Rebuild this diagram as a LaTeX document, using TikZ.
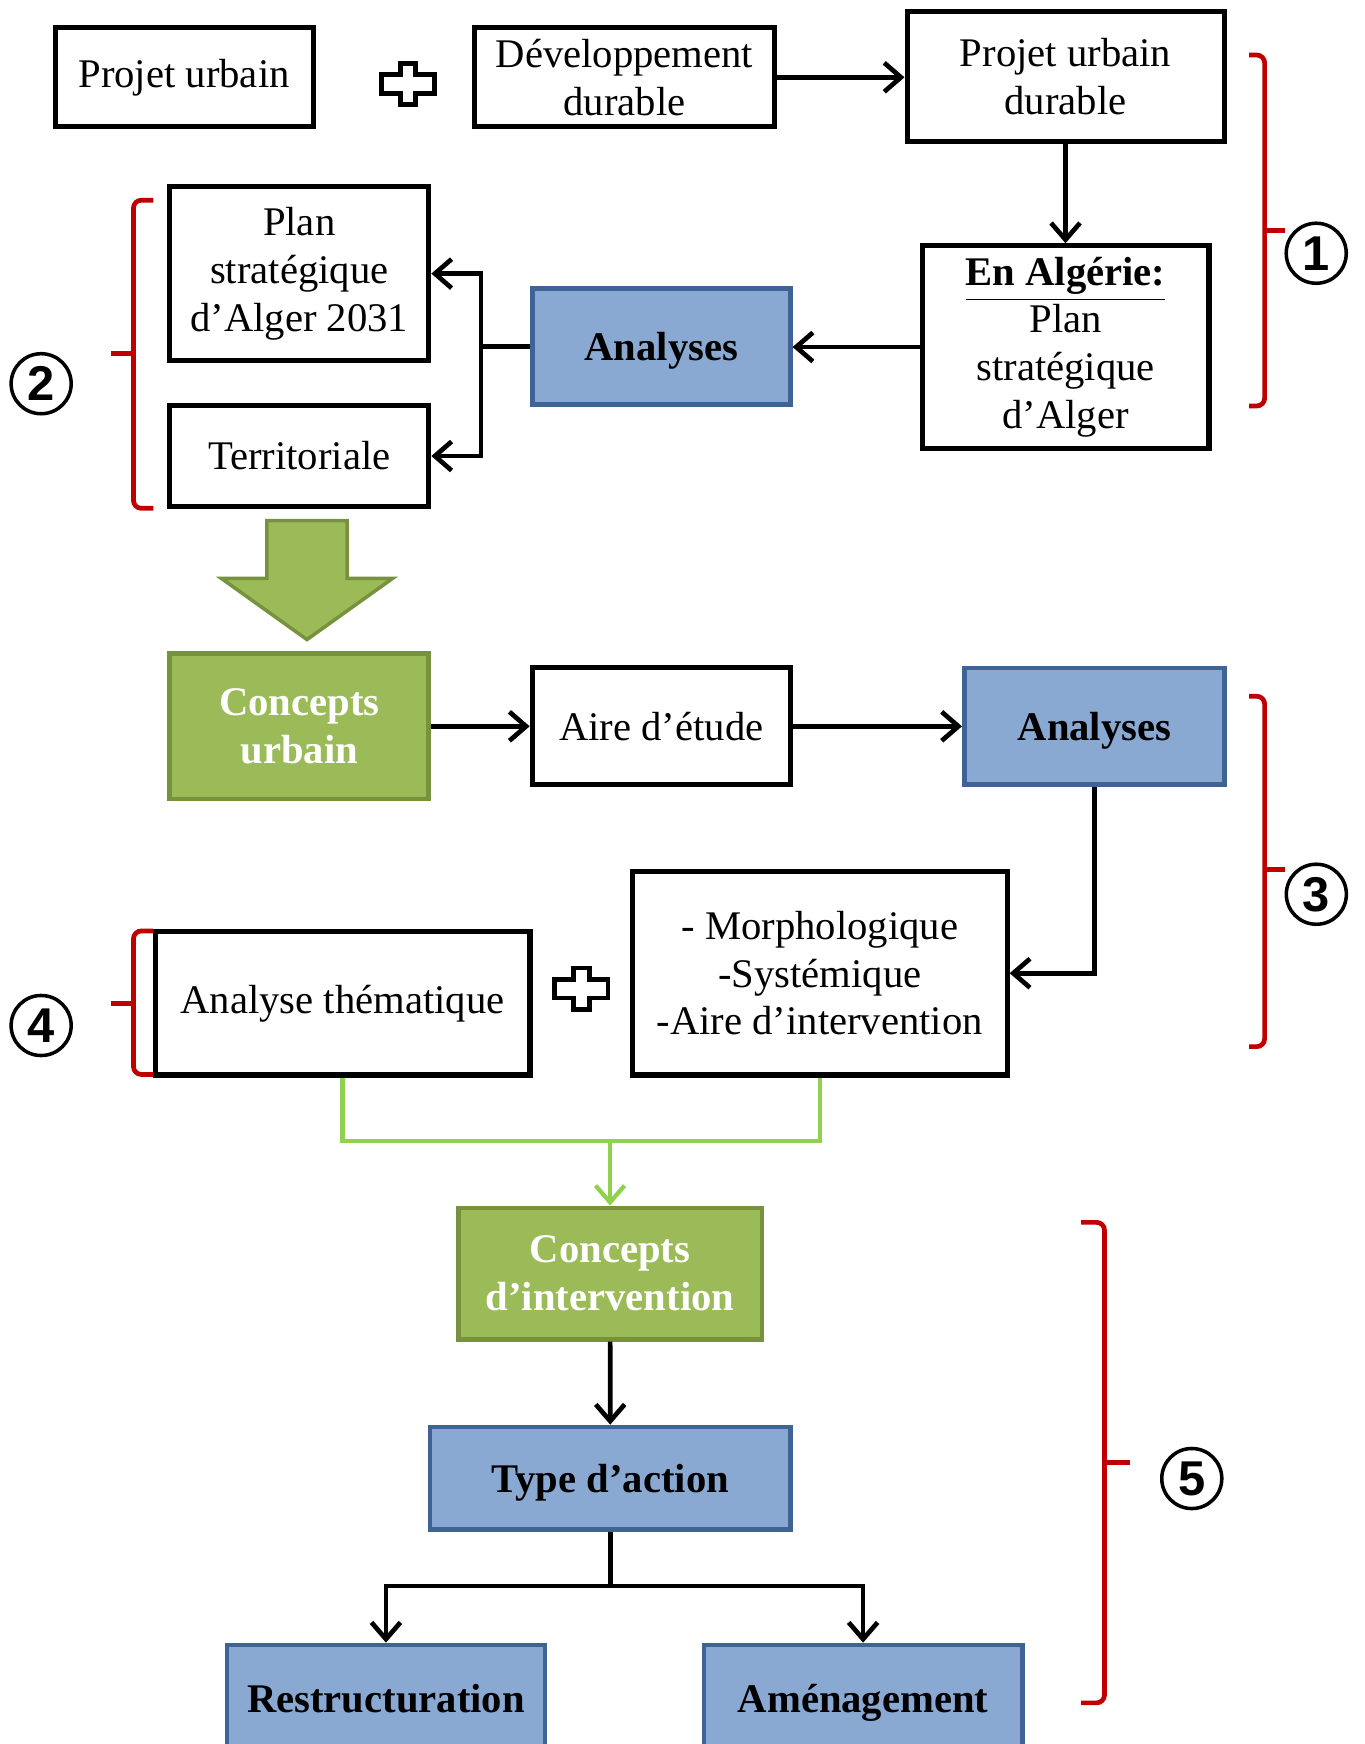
\documentclass[tikz,border=0pt]{standalone}
\usepackage{fontspec}
\setmainfont{Liberation Serif}
\setsansfont{Liberation Sans}
\usetikzlibrary{arrows.meta}
\definecolor{bluefill}{HTML}{8AA9D2}
\definecolor{bluebrd}{HTML}{3F6394}
\definecolor{greenfill}{HTML}{9BBB59}
\definecolor{greenbrd}{HTML}{76923C}
\definecolor{greenline}{HTML}{92D050}
\definecolor{bracered}{HTML}{C00000}

\begin{document}
\begin{tikzpicture}[font=\fontsize{10.4}{12.2}\selectfont,
    box/.style={draw=black,line width=1.3pt,fill=white,inner sep=0pt,align=center},
    bluebox/.style={draw=bluebrd,fill=bluefill,line width=1.2pt,inner sep=0pt,align=center,font=\fontsize{10.4}{12.2}\selectfont\bfseries},
    greenbox/.style={draw=greenbrd,fill=greenfill,line width=1.2pt,inner sep=0pt,align=center,text=white,font=\fontsize{10.4}{12.2}\selectfont\bfseries},
    oneline/.style={text height=2.05ex,text depth=0.5ex},
    arr/.style={-{Straight Barb[length=1.5mm,width=2.6mm]},line width=1.2pt},
    garr/.style={arr,draw=greenline},
    brace/.style={draw=bracered,line width=1.2pt,rounded corners=2pt},
    plus/.style={draw=black,line width=1.2pt,fill=white},
    num/.style={circle,draw=black,line width=0.9pt,minimum size=0.54cm,inner sep=0pt,font=\sffamily\bfseries\fontsize{12.5}{12.5}\selectfont}]
    \useasboundingbox (0,0) rectangle (12.27,-15.68);
    \clip (0,0) rectangle (12.27,-15.68);

    % premiere ligne
    \node[box,minimum width=2.32cm,minimum height=0.89cm] (pu) at (1.655,-0.695) {Projet urbain};
    \draw[plus] (3.668,-0.757) ++(-0.07,0.185) -- ++(0.14,0) -- ++(0,-0.1) -- ++(0.17,0) -- ++(0,-0.17) -- ++(-0.17,0) -- ++(0,-0.1) -- ++(-0.14,0) -- ++(0,0.1) -- ++(-0.17,0) -- ++(0,0.17) -- ++(0.17,0) -- cycle;
    \node[box,minimum width=2.70cm,minimum height=0.89cm] (dd) at (5.615,-0.695) {Développement\\durable};
    \node[box,minimum width=2.85cm,minimum height=1.17cm] (pud) at (9.58,-0.69) {Projet urbain\\durable};
    \node[box,minimum width=2.58cm,minimum height=1.82cm] (alg) at (9.58,-3.12) {\underline{\textbf{En Algérie:}}\\Plan\\stratégique\\d’Alger};
    \node[bluebox,oneline,minimum width=2.32cm,minimum height=1.04cm] (an1) at (5.945,-3.115) {Analyses};
    \node[box,minimum width=2.33cm,minimum height=1.57cm] (psa) at (2.69,-2.46) {Plan\\stratégique\\d’Alger 2031};
    \node[box,minimum width=2.33cm,minimum height=0.91cm] (ter) at (2.69,-4.10) {Territoriale};

    \draw[arr] (dd.east) -- (dd.east -| pud.west);
    \draw[arr] (pud) -- (alg);
    \draw[arr] (alg.west) -- (alg.west -| an1.east);
    \coordinate (j1) at (4.325,-3.115);
    \draw[line width=1.2pt] (an1.west) -- (j1);
    \draw[arr] (j1) |- (psa.east);
    \draw[arr] (j1) |- (ter.east);

    % grosse fleche verte
    \filldraw[fill=greenfill,draw=greenbrd,line width=0.9pt] (2.40,-4.68) -- (3.12,-4.68) -- (3.12,-5.20) -- (3.53,-5.20) -- (2.76,-5.75) -- (1.99,-5.20) -- (2.40,-5.20) -- cycle;

    \node[greenbox,minimum width=2.33cm,minimum height=1.31cm] (cu) at (2.69,-6.53) {Concepts\\urbain};
    \node[box,minimum width=2.32cm,minimum height=1.05cm] (ae) at (5.945,-6.53) {Aire d’étude};
    \node[bluebox,oneline,minimum width=2.34cm,minimum height=1.05cm] (an2) at (9.84,-6.53) {Analyses};
    \node[box,minimum width=3.37cm,minimum height=1.83cm] (mor) at (7.37,-8.75) {- Morphologique\\-Systémique\\-Aire d’intervention};
    \node[box,minimum width=3.37cm,minimum height=1.29cm] (at) at (3.08,-9.02) {Analyse thématique};
    \draw[plus] (5.227,-8.889) ++(-0.07,0.185) -- ++(0.14,0) -- ++(0,-0.1) -- ++(0.17,0) -- ++(0,-0.17) -- ++(-0.17,0) -- ++(0,-0.1) -- ++(-0.14,0) -- ++(0,0.1) -- ++(-0.17,0) -- ++(0,0.17) -- ++(0.17,0) -- cycle;

    \draw[arr] (cu) -- (ae);
    \draw[arr] (ae) -- (an2);
    \draw[arr] (an2.south) |- (mor.east);

    % partie basse
    \node[greenbox,minimum width=2.73cm,minimum height=1.18cm] (ci) at (5.485,-11.45) {Concepts\\d’intervention};
    \node[bluebox,oneline,minimum width=3.24cm,minimum height=0.92cm] (ta) at (5.487,-13.29) {Type d’action};
    \node[bluebox,oneline,minimum width=2.86cm,minimum height=0.96cm] (re) at (3.47,-15.27) {Restructuration};
    \node[bluebox,oneline,minimum width=2.86cm,minimum height=0.96cm] (am) at (7.76,-15.27) {Aménagement};

    \coordinate (gj) at (5.485,-10.26);
    \draw[draw=greenline,line width=1.1pt] (at.south) |- (gj) -| (mor.south);
    \draw[garr,line width=1.1pt] (gj) -- (ci);
    \draw[arr] (ci) -- (ta);
    \coordinate (tj) at (5.487,-14.26);
    \draw[line width=1.2pt] (ta.south) -- (tj);
    \draw[arr] (tj) -| (re);
    \draw[arr] (tj) -| (am);

    % accolades et numeros
    \draw[brace] (11.23,-0.495) -- (11.37,-0.495) -- (11.37,-3.65) -- (11.23,-3.65);
    \draw[brace] (11.37,-2.07) -- (11.55,-2.07);
    \node[num] (n1) at (11.834,-2.277) {1};
    \draw[brace] (1.38,-1.80) -- (1.20,-1.80) -- (1.20,-4.57) -- (1.38,-4.57);
    \draw[brace] (1.20,-3.18) -- (1.00,-3.18);
    \node[num] (n2) at (0.37,-3.45) {2};
    \draw[brace] (11.23,-6.26) -- (11.37,-6.26) -- (11.37,-9.41) -- (11.23,-9.41);
    \draw[brace] (11.37,-7.82) -- (11.55,-7.82);
    \node[num] (n3) at (11.835,-8.04) {3};
    \draw[brace] (1.38,-8.37) -- (1.20,-8.37) -- (1.20,-9.66) -- (1.38,-9.66);
    \draw[brace] (1.20,-9.02) -- (1.00,-9.02);
    \node[num] (n4) at (0.37,-9.22) {4};
    \draw[brace] (9.72,-10.99) -- (9.93,-10.99) -- (9.93,-15.31) -- (9.72,-15.31);
    \draw[brace] (9.93,-13.15) -- (10.16,-13.15);
    \node[num] (n5) at (10.715,-13.293) {5};
\end{tikzpicture}
\end{document}
